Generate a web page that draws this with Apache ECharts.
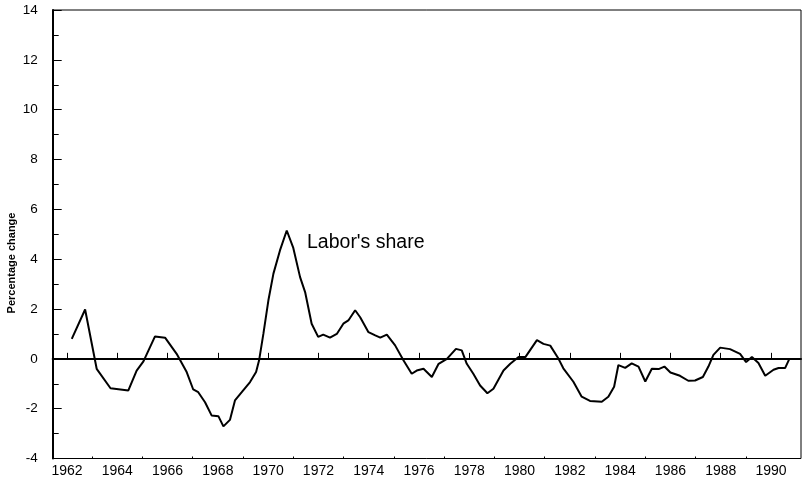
<!DOCTYPE html>
<html><head><meta charset="utf-8">
<script src="https://cdn.jsdelivr.net/npm/echarts@6/dist/echarts.min.js"></script>
<style>html,body{margin:0;padding:0;background:#fff}#c{width:803px;height:483px}</style>
</head><body><div id="c"></div>
<script>
const years = [1962.19,1962.72,1963.18,1963.73,1964.44,1964.77,1965.04,1965.5,1965.9,1966.36,1966.76,1967.02,1967.22,1967.49,1967.75,1968.02,1968.22,1968.48,1968.68,1968.95,1969.28,1969.52,1969.64,1969.81,1970.01,1970.21,1970.47,1970.74,1971.0,1971.27,1971.47,1971.73,1971.99,1972.19,1972.46,1972.73,1972.99,1973.19,1973.46,1973.66,1973.99,1974.26,1974.46,1974.72,1975.05,1975.38,1975.71,1975.91,1976.18,1976.51,1976.78,1977.11,1977.47,1977.7,1977.9,1978.16,1978.43,1978.72,1978.96,1979.36,1979.63,1979.96,1980.23,1980.69,1980.95,1981.22,1981.55,1981.74,1982.14,1982.47,1982.8,1983.27,1983.53,1983.76,1983.93,1984.2,1984.46,1984.73,1985.0,1985.26,1985.53,1985.76,1986.0,1986.38,1986.71,1986.98,1987.29,1987.51,1987.71,1987.98,1988.37,1988.77,1989.01,1989.24,1989.5,1989.77,1990.1,1990.3,1990.56,1990.73];
const laborShare = [0.8,1.98,-0.4,-1.18,-1.27,-0.47,-0.1,0.9,0.85,0.2,-0.53,-1.23,-1.34,-1.74,-2.27,-2.3,-2.71,-2.45,-1.67,-1.34,-0.93,-0.53,-0.06,1.0,2.35,3.42,4.35,5.15,4.45,3.28,2.68,1.41,0.88,0.97,0.85,1.0,1.41,1.54,1.95,1.67,1.07,0.94,0.85,0.97,0.54,-0.06,-0.6,-0.47,-0.4,-0.73,-0.2,0.0,0.4,0.34,-0.2,-0.6,-1.07,-1.38,-1.2,-0.47,-0.2,0.07,0.07,0.75,0.6,0.53,0.0,-0.38,-0.92,-1.52,-1.69,-1.72,-1.52,-1.12,-0.25,-0.36,-0.18,-0.31,-0.91,-0.4,-0.41,-0.31,-0.55,-0.68,-0.88,-0.87,-0.73,-0.31,0.16,0.45,0.39,0.2,-0.13,0.07,-0.17,-0.68,-0.44,-0.37,-0.37,0.0];
const majorYearTicks = [1962,1964,1966,1968,1970,1972,1974,1976,1978,1980,1982,1984,1986,1988,1990];
const minorYearTicks = [1963,1965,1967,1969,1971,1973,1975,1977,1979,1981,1983,1985,1987,1989];
const seriesLabel = "Labor's share";
const yAxisTitle = "Percentage change";

const chart = echarts.init(document.getElementById('c'), null, {renderer: 'canvas'});
const fontFam = '"Liberation Sans", Arial, sans-serif';
chart.setOption({
  animation: false,
  backgroundColor: '#fff',
  grid: {left: 52.7, right: 2, top: 10, bottom: 24.5, show: true, borderColor: '#000', borderWidth: 1},
  xAxis: [{
    type: 'value', min: 1961.431, max: 1991.193,
    axisLine: {show: true, lineStyle: {color: '#000', width: 2}},
    axisTick: {show: true, inside: true, length: 6, customValues: majorYearTicks, lineStyle: {color: '#000', width: 1}},
    axisLabel: {customValues: majorYearTicks, formatter: v => String(v), color: '#000', fontSize: 14, fontFamily: fontFam, margin: 6},
    splitLine: {show: false}
  }, {
    type: 'value', min: 1961.431, max: 1991.193, position: 'bottom',
    axisLine: {show: false},
    axisTick: {show: true, inside: true, length: 2, customValues: minorYearTicks, lineStyle: {color: '#000', width: 1}},
    axisLabel: {show: false},
    splitLine: {show: false}
  }],
  yAxis: {
    type: 'value', min: -4, max: 14, interval: 2,
    axisLine: {show: true, lineStyle: {color: '#000', width: 2}},
    axisTick: {show: true, inside: true, length: 9, lineStyle: {color: '#000', width: 1}},
    minorTick: {show: true, splitNumber: 2, length: 6, lineStyle: {color: '#000', width: 1}},
    axisLabel: {color: '#000', fontSize: 13.5, fontFamily: fontFam, margin: 15},
    splitLine: {show: false}
  },
  graphic: [
    {type: 'text', x: 12, y: 263, rotation: Math.PI / 2,
     style: {text: yAxisTitle, fill: '#000', font: 'bold 11px ' + fontFam, textAlign: 'center', textVerticalAlign: 'middle'}},
    {type: 'text', x: 307, y: 243,
     style: {text: seriesLabel, fill: '#000', font: '19.5px ' + fontFam, textAlign: 'left', textVerticalAlign: 'middle'}}
  ],
  series: [{
    type: 'line',
    data: years.map((y, i) => [y, laborShare[i]]),
    symbol: 'none',
    lineStyle: {color: '#000', width: 2},
    markLine: {
      silent: true, symbol: 'none', label: {show: false},
      lineStyle: {color: '#000', width: 2, type: 'solid'},
      data: [{yAxis: 0}]
    }
  }]
});
</script></body></html>
